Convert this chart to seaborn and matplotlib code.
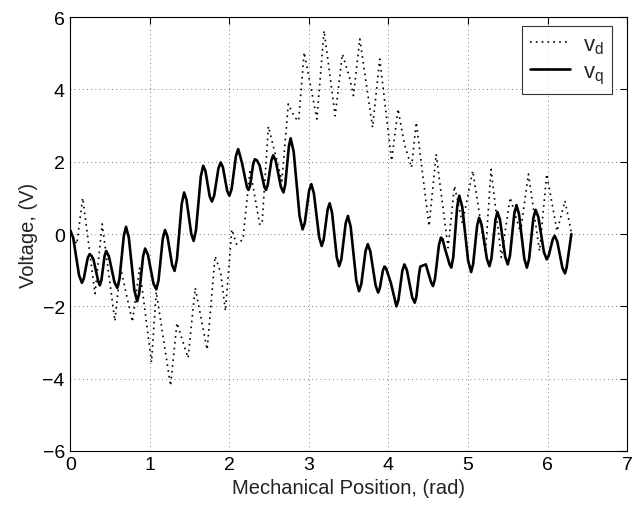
import matplotlib
matplotlib.use("Agg")
import matplotlib.pyplot as plt
import seaborn as sns
import pandas as pd

# v_q (solid) values
vq_x = [0.0, 0.036, 0.109, 0.145, 0.169, 0.216, 0.24, 0.265, 0.29, 0.35,
        0.37, 0.39, 0.43, 0.45, 0.485, 0.555, 0.59, 0.618, 0.672, 0.70,
        0.735, 0.805, 0.84, 0.865, 0.915, 0.94, 0.975, 1.045, 1.08, 1.108,
        1.162, 1.19, 1.22, 1.28, 1.31, 1.34, 1.40, 1.43, 1.46, 1.52,
        1.55, 1.58, 1.64, 1.67, 1.698, 1.752, 1.78, 1.808, 1.862, 1.89,
        1.918, 1.972, 2.0, 2.028, 2.082, 2.11, 2.13, 2.16, 2.22, 2.24,
        2.26, 2.30, 2.32, 2.345, 2.38, 2.44, 2.46, 2.482, 2.528, 2.55,
        2.582, 2.648, 2.68, 2.702, 2.748, 2.77, 2.808, 2.882, 2.92, 2.948,
        3.002, 3.03, 3.062, 3.128, 3.16, 3.185, 3.235, 3.26, 3.29, 3.35,
        3.38, 3.408, 3.462, 3.49, 3.525, 3.595, 3.63, 3.658, 3.712, 3.74,
        3.772, 3.838, 3.87, 3.89, 3.93, 3.95, 3.97, 4.03, 4.10, 4.125,
        4.175, 4.20, 4.232, 4.298, 4.33, 4.35, 4.385, 4.40, 4.47, 4.538,
        4.56, 4.585, 4.635, 4.66, 4.68, 4.71, 4.77, 4.79, 4.815, 4.865,
        4.89, 4.928, 5.002, 5.04, 5.065, 5.115, 5.14, 5.172, 5.238, 5.27,
        5.295, 5.345, 5.37, 5.402, 5.468, 5.50, 5.528, 5.582, 5.61, 5.642,
        5.708, 5.74, 5.768, 5.822, 5.85, 5.885, 5.955, 5.99, 6.015, 6.065,
        6.09, 6.122, 6.188, 6.22, 6.24, 6.30]
vq_y = [0.1, -0.11, -1.14, -1.35, -1.23, -0.68, -0.56, -0.6, -0.7, -1.3,
        -1.42, -1.28, -0.61, -0.47, -0.62, -1.34, -1.49, -1.24, -0.05, 0.2,
        -0.10, -1.56, -1.86, -1.65, -0.61, -0.40, -0.57, -1.37, -1.53, -1.29,
        -0.13, 0.11, -0.06, -0.86, -1.02, -0.70, 0.83, 1.15, 0.95, 0.01,
        -0.19, 0.11, 1.59, 1.89, 1.75, 1.04, 0.90, 1.06, 1.82, 1.98,
        1.85, 1.19, 1.06, 1.25, 2.16, 2.35, 2.2, 1.95, 1.3, 1.22,
        1.34, 1.95, 2.07, 2.04, 1.9, 1.3, 1.22, 1.36, 2.04, 2.18,
        2.03, 1.30, 1.15, 1.37, 2.43, 2.65, 2.28, 0.50, 0.13, 0.31,
        1.20, 1.38, 1.13, -0.08, -0.33, -0.16, 0.68, 0.85, 0.60, -0.64,
        -0.89, -0.69, 0.30, 0.50, 0.20, -1.28, -1.58, -1.39, -0.47, -0.28,
        -0.48, -1.42, -1.62, -1.51, -1.01, -0.90, -0.95, -1.35, -2.0, -1.83,
        -1.01, -0.84, -1.0, -1.75, -1.90, -1.75, -1.1, -0.9, -0.84, -1.35,
        -1.44, -1.24, -0.30, -0.10, -0.14, -0.4, -0.85, -0.93, -0.64, 0.77,
        1.06, 0.75, -0.74, -1.05, -0.83, 0.23, 0.45, 0.25, -0.69, -0.89,
        -0.67, 0.39, 0.61, 0.40, -0.63, -0.84, -0.60, 0.56, 0.80, 0.55,
        -0.68, -0.93, -0.70, 0.44, 0.67, 0.47, -0.50, -0.70, -0.60, -0.15,
        -0.05, -0.20, -0.94, -1.09, -0.93, 0.0]

# v_d (dotted) values
vd_x = [0.0, 0.08, 0.155, 0.31, 0.40, 0.56, 0.63, 0.78, 0.87, 1.02,
        1.08, 1.26, 1.34, 1.48, 1.57, 1.72, 1.82, 1.89, 1.95, 2.03,
        2.09, 2.17, 2.26, 2.38, 2.41, 2.49, 2.66, 2.74, 2.82, 2.87,
        2.94, 3.10, 3.19, 3.33, 3.42, 3.51, 3.56, 3.64, 3.80, 3.89,
        4.04, 4.12, 4.20, 4.29, 4.35, 4.51, 4.60, 4.75, 4.83, 4.93,
        5.06, 5.22, 5.29, 5.42, 5.53, 5.66, 5.76, 5.90, 5.99, 6.12,
        6.22, 6.30]
vd_y = [0.08, -0.28, 1.0, -1.65, 0.28, -2.41, -0.92, -2.43, -0.94, -3.55,
        -1.6, -4.2, -2.46, -3.43, -1.49, -3.2, -0.61, -1.07, -2.13, 0.13,
        -0.28, -0.15, 1.79, 0.27, 0.27, 2.98, 1.47, 3.6, 3.23, 3.13,
        5.03, 3.18, 5.63, 3.27, 4.98, 4.34, 3.83, 5.4, 2.95, 4.84,
        2.03, 3.46, 2.49, 1.84, 3.09, 0.22, 2.21, -0.38, 1.33, 0.3,
        1.75, -0.52, 1.79, -0.65, 1.01, 0.04, 1.66, -0.47, 1.66, 0.08,
        0.92, 0.04]

x_ticks = [0, 1, 2, 3, 4, 5, 6, 7]
y_ticks = [-6, -4, -2, 0, 2, 4, 6]
y_tick_labels = ["\u22126", "\u22124", "\u22122", "0", "2", "4", "6"]

sns.set_theme(style="white")
plt.rcParams['font.family'] = ['Liberation Sans', 'DejaVu Sans']

fig = plt.figure(figsize=(6.34, 5.06), dpi=100)
ax = fig.add_axes([0.111, 0.107, 0.878, 0.857])

df_d = pd.DataFrame({"x": vd_x, "y": vd_y})
df_q = pd.DataFrame({"x": vq_x, "y": vq_y})

sns.lineplot(data=df_d, x="x", y="y", ax=ax, sort=False, color="black",
             linewidth=1.2, linestyle=(0, (1, 2.5)), label=r"$\mathregular{v_d}$")
sns.lineplot(data=df_q, x="x", y="y", ax=ax, sort=False, color="black",
             linewidth=1.9, label=r"$\mathregular{v_q}$")
for ln in ax.get_lines():
    ln.set_solid_joinstyle("round")

ax.set_xlim(0, 7)
ax.set_ylim(-6, 6)
ax.set_xticks(x_ticks)
ax.set_yticks(y_ticks)
ax.set_yticklabels(y_tick_labels)
ax.grid(True, linestyle=(0, (1, 4)), color="black", linewidth=0.6, alpha=0.7)
for s in ax.spines.values():
    s.set_visible(True)
    s.set_color("black")
    s.set_linewidth(0.8)
ax.tick_params(direction="in", length=5, width=0.8, top=True, right=True,
               labelsize=14, colors="black", pad=4)
ax.set_xlabel("Mechanical Position, (rad)", fontsize=14.5, color="#222222", labelpad=3)
ax.set_ylabel("Voltage, (V)", fontsize=14.5, color="#222222", labelpad=3)

leg = ax.legend(loc="upper right", bbox_to_anchor=(0.973, 0.979), borderaxespad=0,
                fontsize=16, frameon=True, fancybox=False, edgecolor="black",
                handlelength=1.8, handletextpad=0.6, labelspacing=0.25, borderpad=0.35)
leg.get_frame().set_linewidth(0.8)

fig.savefig("out.png", dpi=100, facecolor="white")
